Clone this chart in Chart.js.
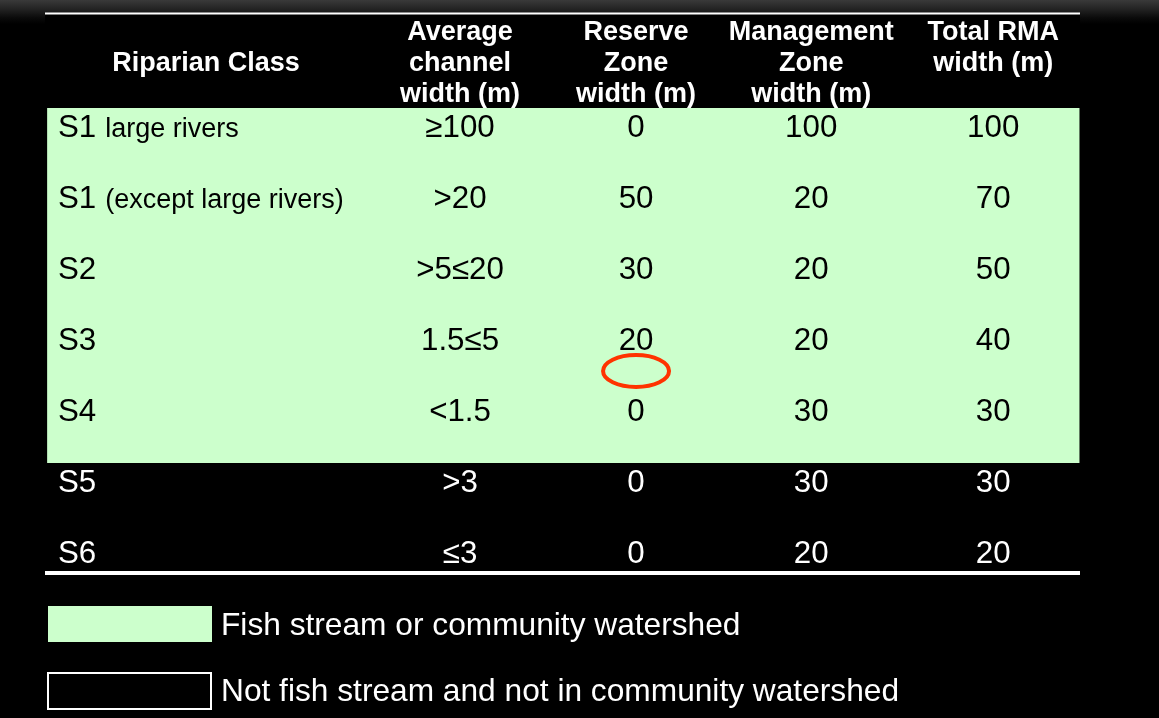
<!DOCTYPE html>
<html>
<head>
<meta charset="utf-8">
<script src="https://cdn.jsdelivr.net/npm/chart.js@4.4.1/dist/chart.umd.min.js"></script>
<style>
html,body{margin:0;padding:0;background:#000;}
body{width:1159px;height:718px;overflow:hidden;
  background:linear-gradient(#3a3a3a 0px,#262626 8px,#0a0a0a 18px,#000 24px) no-repeat #000;}
#wrap{position:relative;width:1159px;height:718px;}
</style>
</head>
<body>
<div id="wrap"><canvas id="c" width="1159" height="718"></canvas></div>
<script>
// ---------- data ----------
const riparianClass = ['S1', 'S1', 'S2', 'S3', 'S4', 'S5', 'S6'];
const classNote = ['large rivers', '(except large rivers)', '', '', '', '', ''];
const channelWidth = ['\u2265100', '>20', '>5\u226420', '1.5\u22645', '<1.5', '>3', '\u22643'];
const reserveZone = [0, 50, 30, 20, 0, 0, 0];
const managementZone = [100, 20, 20, 20, 30, 30, 20];
const totalRMA = [100, 70, 50, 40, 30, 30, 20];
const fishStream = [true, true, true, true, true, false, false];
const headerLines = [
  ['', 'Riparian Class'],
  ['Average', 'channel', 'width (m)'],
  ['Reserve', 'Zone', 'width (m)'],
  ['Management', 'Zone', 'width (m)'],
  ['Total RMA', 'width (m)']
];
const legendLabels = ['Fish stream or community watershed', 'Not fish stream and not in community watershed'];

// ---------- layout / style ----------
const FONT = '"Liberation Sans", Arial, Helvetica, sans-serif';
const GREEN = '#ccffcc';
const X_MIN = -1.333, X_MAX = 4.5;
const COL_X = [-0.426, 1.006, 1.998, 2.985, 4.011];

const rowLabels = riparianClass.map((c, i) => c + (classNote[i] ? ' ' + classNote[i] : ''));

const tablePlugin = {
  id: 'tableText',
  beforeDatasetsDraw(chart) {
    const {ctx, chartArea: ca} = chart;
    ctx.save();
    ctx.fillStyle = '#000';
    ctx.fillRect(ca.left, ca.top - 95, ca.width, 95);
    ctx.restore();
  },
  afterDatasetsDraw(chart) {
    const {ctx, chartArea: ca, scales: {x, y}} = chart;
    const band = y.getPixelForValue(1) - y.getPixelForValue(0);
    ctx.save();
    // header
    ctx.fillStyle = '#fff';
    ctx.font = 'bold 27px ' + FONT;
    ctx.textAlign = 'center';
    ctx.textBaseline = 'alphabetic';
    headerLines.forEach((lines, c) => {
      const px = x.getPixelForValue(COL_X[c]);
      lines.forEach((t, k) => { if (t) ctx.fillText(t, px, ca.top - 68.5 + 31 * k); });
    });
    // rows
    const cols = [channelWidth, reserveZone, managementZone, totalRMA];
    for (let i = 0; i < riparianClass.length; i++) {
      const base = y.getPixelForValue(i) - band * 0.25 + 11;
      ctx.fillStyle = fishStream[i] ? '#000' : '#fff';
      ctx.textAlign = 'left';
      ctx.font = '31.3px ' + FONT;
      const lx = ca.left + 13;
      ctx.fillText(riparianClass[i], lx, base);
      if (classNote[i]) {
        const w = ctx.measureText(riparianClass[i]).width;
        ctx.font = '27px ' + FONT;
        ctx.fillText(classNote[i], lx + w + 9, base);
      }
      ctx.font = '31.3px ' + FONT;
      ctx.textAlign = 'center';
      cols.forEach((arr, k) => ctx.fillText(String(arr[i]), x.getPixelForValue(COL_X[k + 1]), base));
    }
    // rules
    ctx.fillStyle = '#fff';
    ctx.fillRect(ca.left, ca.top - 95.5, ca.width, 2);
    ctx.fillRect(ca.left, ca.bottom - 34, ca.width, 4);
    // highlight ellipse
    ctx.strokeStyle = '#ff3300';
    ctx.lineWidth = 4;
    ctx.beginPath();
    ctx.ellipse(x.getPixelForValue(COL_X[2]), y.getPixelForValue(3.5) - 21, 33, 16, 0, 0, Math.PI * 2);
    ctx.stroke();
    // legend
    const ds = chart.data.datasets;
    const boxL = ca.left + 3, boxW = 164;
    ctx.fillStyle = ds[0].backgroundColor;
    ctx.fillRect(boxL, ca.bottom + 1, boxW, 36);
    ctx.fillStyle = '#000';
    ctx.fillRect(boxL, ca.bottom + 68, boxW - 1, 36);
    ctx.strokeStyle = ds[1].borderColor;
    ctx.lineWidth = 2;
    ctx.strokeRect(boxL, ca.bottom + 68, boxW - 1, 36);
    ctx.fillStyle = '#fff';
    ctx.font = '31.7px ' + FONT;
    ctx.textAlign = 'left';
    ctx.fillText(ds[0].label, boxL + 173, ca.bottom + 30);
    ctx.fillText(ds[1].label, boxL + 173, ca.bottom + 96);
    ctx.restore();
  }
};

new Chart(document.getElementById('c'), {
  type: 'bar',
  data: {
    labels: rowLabels,
    datasets: [
      {
        label: legendLabels[0],
        data: fishStream.map(f => f ? [X_MIN + 0.012, X_MAX - 0.003] : null),
        backgroundColor: GREEN,
        borderWidth: 0,
        inflateAmount: 0,
        grouped: false,
        barPercentage: 1,
        categoryPercentage: 1
      },
      {
        label: legendLabels[1],
        data: fishStream.map(f => f ? null : [X_MIN, X_MAX]),
        backgroundColor: '#000',
        borderColor: '#ffffff',
        borderWidth: 0,
        inflateAmount: 0,
        grouped: false,
        barPercentage: 1,
        categoryPercentage: 1
      }
    ]
  },
  options: {
    indexAxis: 'y',
    responsive: false,
    devicePixelRatio: 1,
    animation: false,
    events: [],
    layout: {padding: {left: 45, right: 79, top: 108, bottom: 113}},
    plugins: {legend: {display: false}, tooltip: {enabled: false}},
    scales: {
      x: {type: 'linear', min: X_MIN, max: X_MAX, display: false},
      y: {type: 'category', display: false, offset: true}
    }
  },
  plugins: [tablePlugin]
});
</script>
</body>
</html>
